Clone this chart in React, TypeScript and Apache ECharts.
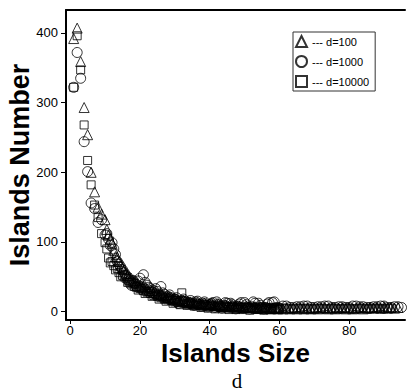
import React, { useEffect, useRef } from "react";
import * as echarts from "echarts";

const sizes = [
  1, 2, 3, 4, 5, 6, 7, 8, 9, 10, 11, 12, 13, 14, 15, 16, 17, 18, 19, 20,
  21, 22, 23, 24, 25, 26, 27, 28, 29, 30, 31, 32, 33, 34, 35, 36, 37, 38, 39, 40,
  41, 42, 43, 44, 45, 46, 47, 48, 49, 50, 51, 52, 53, 54, 55, 56, 57, 58, 59, 60,
  61, 62, 63, 64, 65, 66, 67, 68, 69, 70, 71, 72, 73, 74, 75, 76, 77, 78, 79, 80,
  81, 82, 83, 84, 85, 86, 87, 88, 89, 90, 91, 92, 93, 94, 95,
];

const sizesMid = [
  10.5, 11.5, 12.5, 13.5, 14.5, 15.5, 16.5, 17.5, 18.5, 19.5,
  20.5, 21.5, 22.5, 23.5, 24.5, 25.5, 26.5, 27.5, 28.5, 29.5,
  30.5, 31.5, 32.5, 33.5, 34.5, 35.5, 36.5, 37.5, 38.5, 39.5,
  40.5, 41.5, 42.5, 43.5, 44.5, 45.5, 46.5, 47.5, 48.5, 49.5,
  50.5, 51.5, 52.5, 53.5, 54.5, 55.5, 56.5, 57.5, 58.5, 59.5,
];

const d100 = [
  392, 407, 359, 293, 254, 200, 172, 150, 140, 132, 110, 98, 79, 72, 62, 55, 50, 45, 42, 38,
  35, 33, 31, 28, 26, 25, 23, 21, 20, 19, 17, 16, 15, 14, 13, 13, 12, 11, 12, 11,
  10, 9, 10, 8, 9, 8, 7, 8, 7, 6, 7, 6, 7, 5, 6, 6, 5, 5, 6, 5,
  4, 5, 4, 5, 4, 5, 4, 5, 4, 5, 4, 5, 6, 4, 5, 4, 5, 6, 4, 5,
  4, 5, 6, 4, 5, 6, 5, 6, 5, 7, 5, 6, 5, 6,
];
const d100Mid = [
  118, 104, 88, 78, 66, 60, 52, 48, 44, 40,
  37, 36, 30, 30, 27, 24, 24, 20, 21, 18,
  18, 15, 16, 13, 14, 12, 13, 11, 12, 10,
  12, 9, 11, 8, 10, 7, 9, 7, 8, 6,
  8, 6, 7, 5, 7, 5, 6, 4, 6, 4,
];

const d1000 = [
  322, 372, 335, 244, 201, 156, 148, 128, 132, 110, 104, 99, 82, 68, 60, 52, 41, 45, 36, 48,
  53, 38, 33, 30, 29, 36, 25, 22, 20, 18, 12, 16, 15, 13, 11, 14, 10, 12, 9, 10,
  13, 14, 8, 9, 12, 12, 7, 8, 13, 13, 6, 7, 12, 12, 5, 6, 13, 13, 5, 5,
  8, 8, 6, 6, 7, 7, 8, 8, 6, 6, 7, 7, 8, 8, 6, 6, 7, 7, 6, 6,
  8, 8, 7, 7, 6, 6, 7, 7, 8, 8, 6, 6, 7, 7, 6,
];
const d1000Mid = [
  112, 95, 90, 72, 64, 56, 46, 38, 40, 44,
  32, 42, 35, 28, 33, 24, 27, 20, 24, 16,
  20, 14, 18, 11, 16, 9, 15, 8, 14, 7,
  12, 6, 11, 5, 13, 6, 10, 4, 11, 5,
  10, 4, 14, 5, 9, 4, 11, 5, 14, 6,
];

const d10000 = [
  322, 396, 347, 268, 217, 182, 153, 135, 112, 99, 77, 72, 60, 56, 52, 48, 44, 40, 35, 33,
  30, 28, 26, 23, 22, 20, 18, 17, 16, 14, 13, 27, 12, 11, 10, 9, 9, 8, 8, 8,
  7, 7, 6, 6, 7, 6, 5, 5, 6, 6, 5, 5, 4, 4, 5, 5, 4, 4, 5, 4,
  5, 5, 4, 4, 5, 5, 4, 5, 4, 4, 5, 5, 4, 4, 5, 5, 4, 4, 5, 5,
  4, 4, 5, 5, 4, 4, 5, 5, 4, 4, 5, 5,
];
const d10000Mid = [
  90, 70, 66, 62, 50, 50, 42, 42, 36, 31,
  34, 26, 29, 22, 25, 18, 21, 15, 19, 12,
  16, 10, 15, 9, 13, 8, 11, 6, 10, 5,
  9, 4, 8, 4, 8, 3, 7, 3, 7, 3,
  6, 2, 6, 3, 7, 2, 6, 3, 5, 3,
];

const seriesNames = ["--- d=100", "--- d=1000", "--- d=10000"];
const xTicks = [0, 20, 40, 60, 80];
const yTicks = [0, 100, 200, 300, 400];

const pairs = (xs: number[], ys: number[]) => ys.map((y, i) => [xs[i], y]);

export default function App() {
  const ref = useRef<HTMLDivElement>(null);
  useEffect(() => {
    if (!ref.current) return;
    const chart = echarts.init(ref.current, undefined, { renderer: "svg" });
    const font = "Liberation Sans";
    const hollow = {
      color: "rgba(0,0,0,0)",
      borderColor: "#000",
      borderWidth: 1,
    };
    chart.setOption({
      animation: false,
      backgroundColor: "#fff",
      grid: { left: 66, right: 2, top: 10, bottom: 71, containLabel: false, outerBoundsMode: "none" },
      legend: {
        orient: "vertical",
        left: 293,
        top: 32,
        padding: [3, 6, 3, 2],
        itemGap: 7,
        itemWidth: 11,
        itemHeight: 11,
        borderColor: "#333",
        borderWidth: 1,
        textStyle: { fontSize: 11, fontFamily: font, color: "#000" },
        data: seriesNames,
      },
      xAxis: [
        {
          type: "value",
          min: -1.2,
          max: 96,
          name: "Islands Size",
          nameLocation: "middle",
          nameGap: 22,
          nameMoveOverlap: false,
          nameTextStyle: { fontSize: 26, lineHeight: 22, fontWeight: "bold", fontFamily: font, color: "#000" },
          axisLine: { show: true, onZero: false, lineStyle: { color: "#000", width: 2 } },
          axisTick: { show: true, length: 4, customValues: xTicks, lineStyle: { color: "#000", width: 1 } },
          axisLabel: { customValues: xTicks, fontSize: 13, fontFamily: font, color: "#000", margin: 4 },
          splitLine: { show: false },
        },
        {
          type: "value",
          position: "top",
          min: -1.2,
          max: 96,
          axisLine: { show: true, onZero: false, lineStyle: { color: "#000", width: 2 } },
          axisTick: { show: false },
          axisLabel: { show: false },
          splitLine: { show: false },
        },
      ],
      yAxis: {
        type: "value",
        min: -12,
        max: 433,
        name: "Islands Number",
        nameLocation: "middle",
        nameGap: 33,
        nameMoveOverlap: false,
        nameTextStyle: { fontSize: 27, lineHeight: 27, fontWeight: "bold", fontFamily: font, color: "#000" },
        axisLine: { show: true, onZero: false, lineStyle: { color: "#000", width: 2 } },
        axisTick: { show: true, length: 5, customValues: yTicks, lineStyle: { color: "#000", width: 1 } },
        axisLabel: { customValues: yTicks, fontSize: 13, fontFamily: font, color: "#000", margin: 8 },
        splitLine: { show: false },
      },
      series: [
        {
          name: seriesNames[0],
          type: "scatter",
          symbol: "triangle",
          symbolSize: 10,
          itemStyle: hollow,
          data: pairs(sizes, d100).concat(pairs(sizesMid, d100Mid)),
        },
        {
          name: seriesNames[1],
          type: "scatter",
          symbol: "circle",
          symbolSize: 10,
          itemStyle: hollow,
          data: pairs(sizes, d1000).concat(pairs(sizesMid, d1000Mid)),
        },
        {
          name: seriesNames[2],
          type: "scatter",
          symbol: "rect",
          symbolSize: 8,
          itemStyle: hollow,
          data: pairs(sizes, d10000).concat(pairs(sizesMid, d10000Mid)),
        },
      ],
      graphic: [
        {
          type: "text",
          x: 237,
          y: 391,
          style: {
            text: "d",
            fontSize: 21,
            lineHeight: 21,
            fontFamily: "Liberation Serif",
            fill: "#000",
            align: "center",
            verticalAlign: "bottom",
          },
        },
      ],
    });
    return () => chart.dispose();
  }, []);
  return (
    <div
      ref={ref}
      style={{ position: "fixed", left: 0, top: 0, width: 407, height: 391, background: "#fff" }}
    />
  );
}
